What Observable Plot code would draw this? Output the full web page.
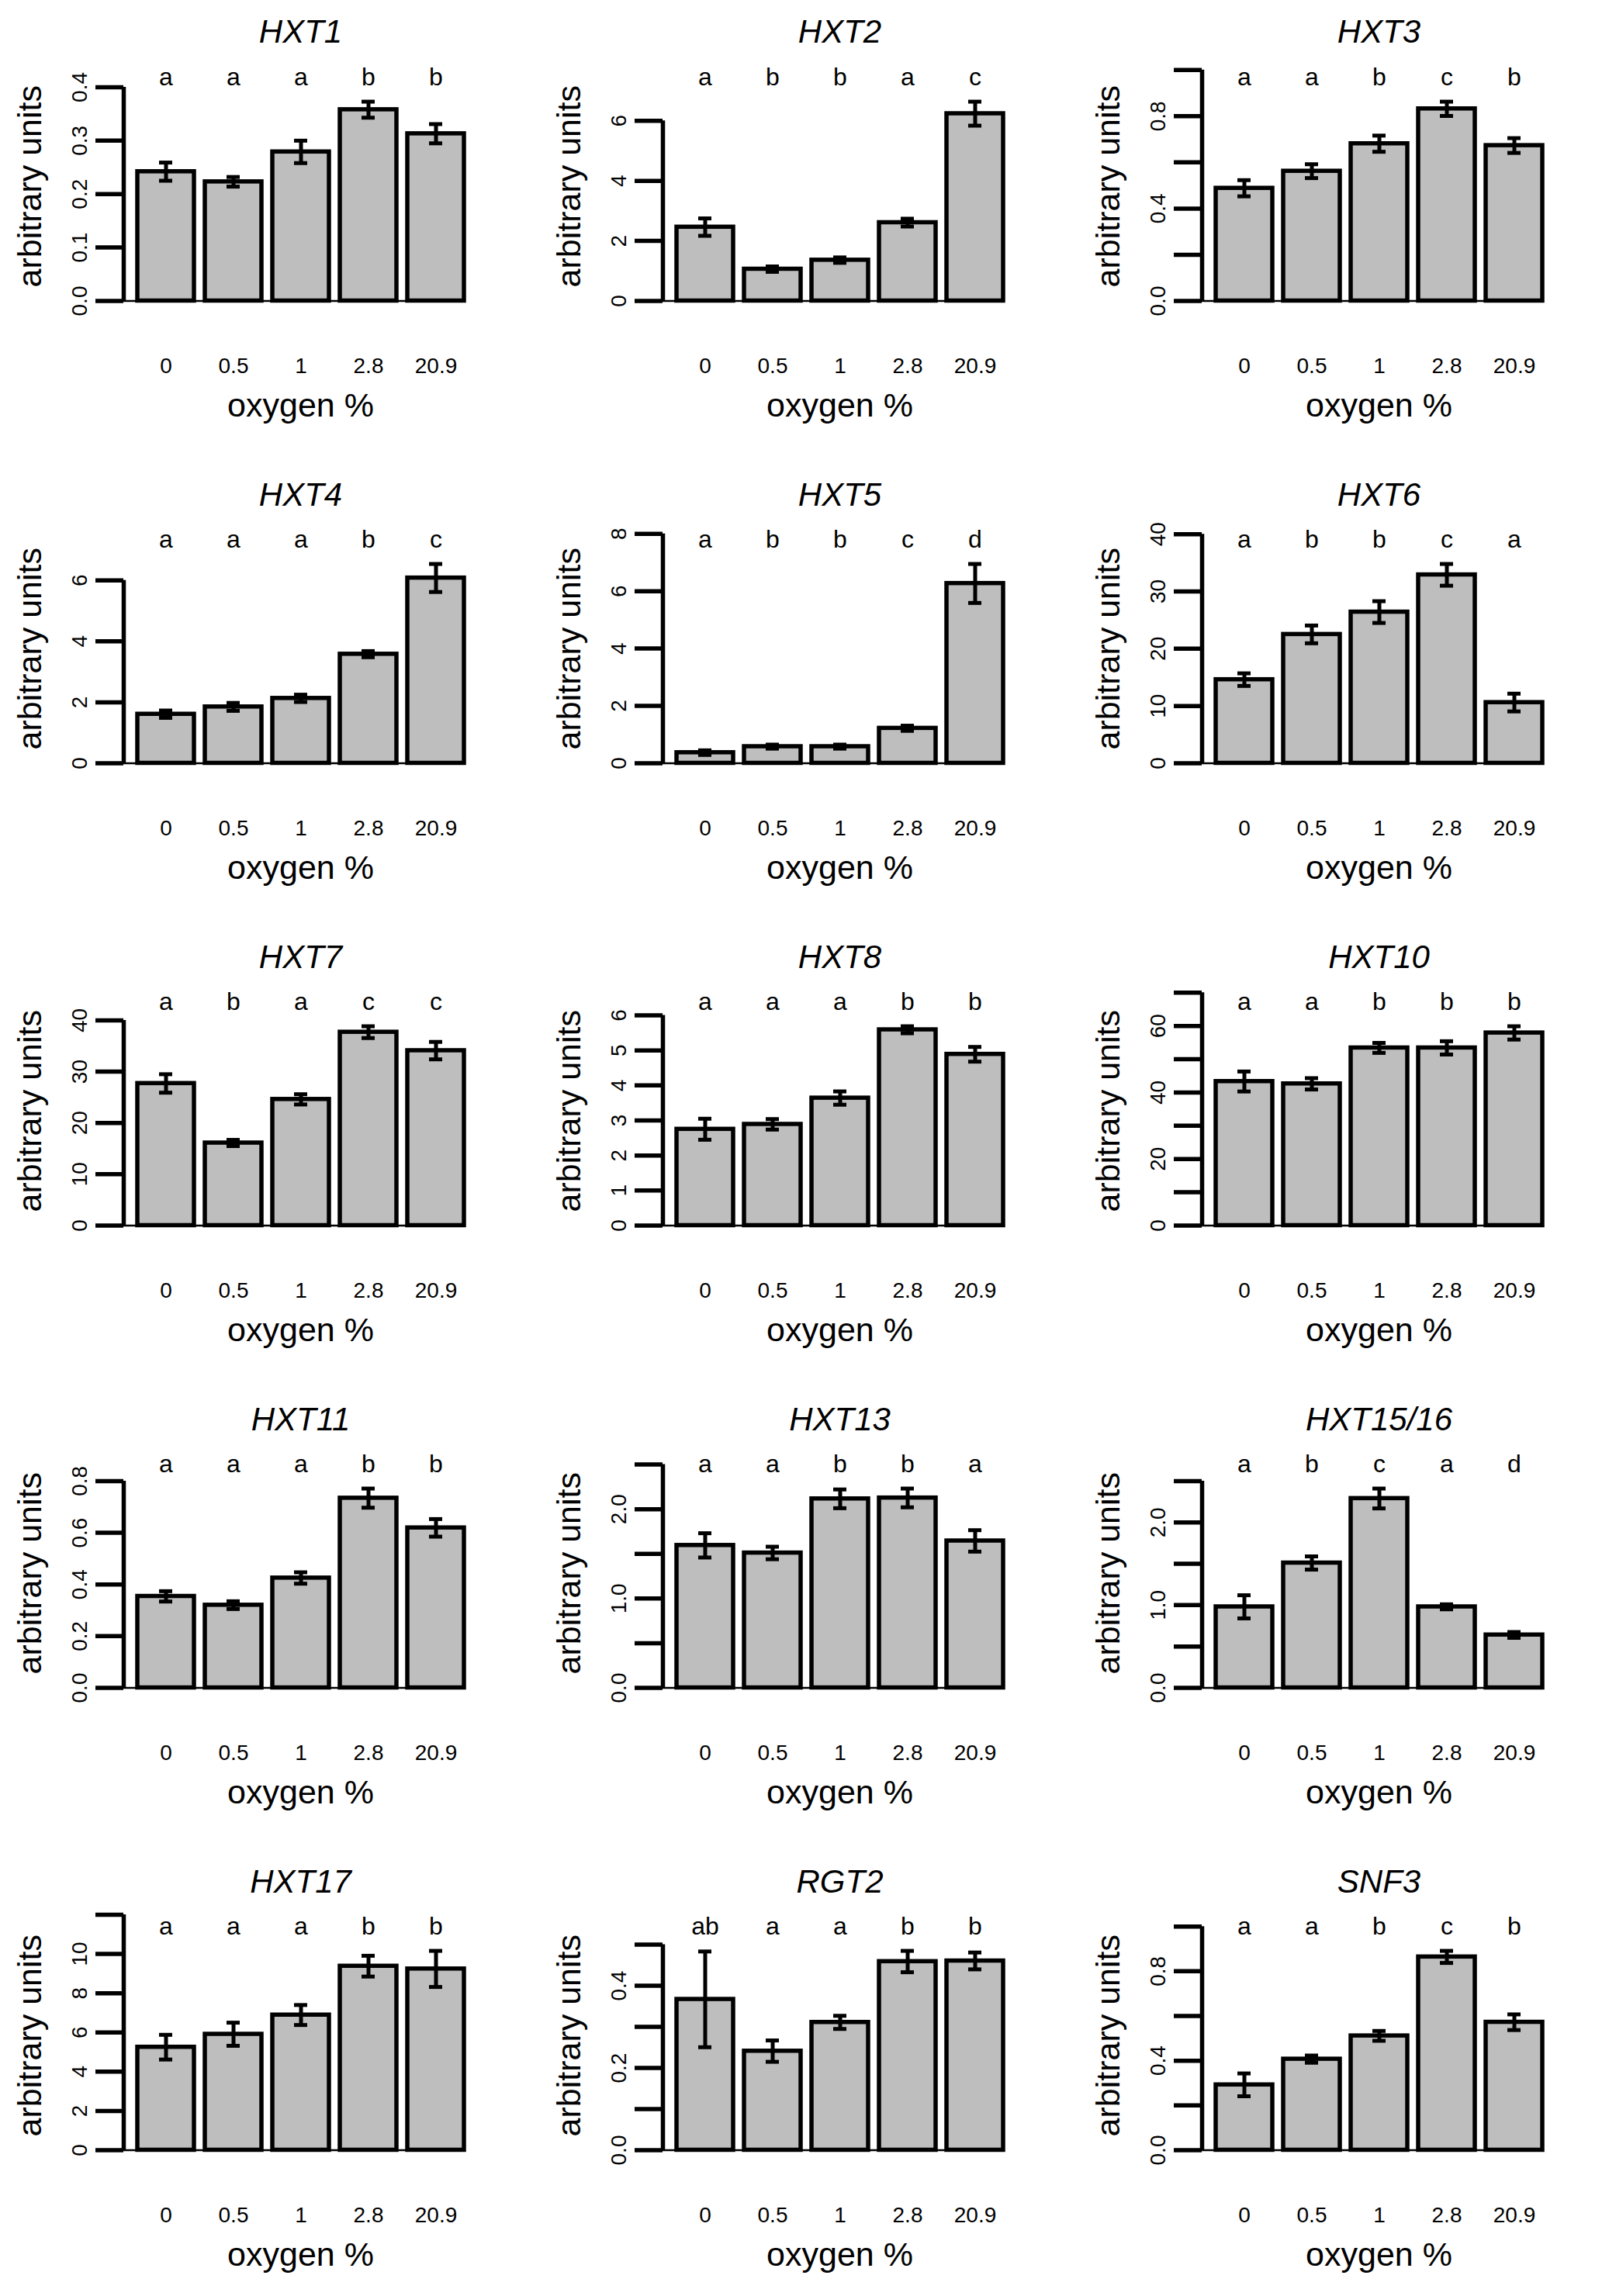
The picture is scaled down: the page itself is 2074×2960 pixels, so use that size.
<!DOCTYPE html>
<html>
<head>
<meta charset="utf-8">
<script src="https://cdn.jsdelivr.net/npm/d3@7"></script>
<script src="https://cdn.jsdelivr.net/npm/@observablehq/plot@0.6"></script>
<style>
html, body { margin: 0; padding: 0; background: #fff; overflow: hidden; }
#wrap { position: relative; width: 2074px; height: 2960px; overflow: hidden; background: #fff; }
.panel { position: absolute; width: 697px; height: 596px; }
.panel svg { max-width: none !important; }
</style>
</head>
<body>
<div id="wrap"></div>
<script>
// ---- data ----
const oxygen = ["0", "0.5", "1", "2.8", "20.9"];
const genes = ["HXT1", "HXT2", "HXT3", "HXT4", "HXT5", "HXT6", "HXT7", "HXT8", "HXT10",
               "HXT11", "HXT13", "HXT15/16", "HXT17", "RGT2", "SNF3"];
const means = [
  [0.242, 0.223, 0.279, 0.358, 0.313],
  [2.46, 1.06, 1.36, 2.61, 6.24],
  [0.488, 0.562, 0.681, 0.832, 0.673],
  [1.61, 1.85, 2.13, 3.58, 6.08],
  [0.37, 0.58, 0.58, 1.22, 6.27],
  [14.6, 22.5, 26.4, 32.9, 10.6],
  [27.7, 16.1, 24.6, 37.7, 34.1],
  [2.75, 2.89, 3.64, 5.59, 4.89],
  [43.3, 42.6, 53.4, 53.4, 57.9],
  [0.354, 0.320, 0.425, 0.734, 0.619],
  [1.595, 1.51, 2.116, 2.126, 1.645],
  [0.98, 1.51, 2.29, 0.98, 0.64],
  [5.25, 5.91, 6.89, 9.38, 9.24],
  [0.367, 0.241, 0.311, 0.459, 0.4605],
  [0.292, 0.407, 0.511, 0.864, 0.572]
];
const errors = [
  [0.017, 0.009, 0.021, 0.015, 0.018],
  [0.29, 0.09, 0.09, 0.13, 0.40],
  [0.035, 0.030, 0.035, 0.031, 0.032],
  [0.12, 0.13, 0.12, 0.10, 0.46],
  [0.08, 0.07, 0.07, 0.09, 0.68],
  [1.1, 1.55, 1.9, 1.9, 1.55],
  [1.8, 0.6, 1.0, 1.15, 1.7],
  [0.30, 0.15, 0.19, 0.10, 0.21],
  [3.0, 1.7, 1.5, 2.0, 2.0],
  [0.020, 0.015, 0.022, 0.037, 0.034],
  [0.136, 0.07, 0.105, 0.105, 0.12],
  [0.14, 0.08, 0.12, 0.03, 0.035],
  [0.63, 0.59, 0.51, 0.53, 0.92],
  [0.1165, 0.026, 0.016, 0.026, 0.0205],
  [0.051, 0.016, 0.022, 0.027, 0.035]
];
const letters = [
  ["a", "a", "a", "b", "b"],
  ["a", "b", "b", "a", "c"],
  ["a", "a", "b", "c", "b"],
  ["a", "a", "a", "b", "c"],
  ["a", "b", "b", "c", "d"],
  ["a", "b", "b", "c", "a"],
  ["a", "b", "a", "c", "c"],
  ["a", "a", "a", "b", "b"],
  ["a", "a", "b", "b", "b"],
  ["a", "a", "a", "b", "b"],
  ["a", "a", "b", "b", "a"],
  ["a", "b", "c", "a", "d"],
  ["a", "a", "a", "b", "b"],
  ["ab", "a", "a", "b", "b"],
  ["a", "a", "b", "c", "b"]
];
const yTicks = [
  [0, 0.1, 0.2, 0.3, 0.4],
  [0, 2, 4, 6],
  [0, 0.2, 0.4, 0.6, 0.8, 1.0],
  [0, 2, 4, 6],
  [0, 2, 4, 6, 8],
  [0, 10, 20, 30, 40],
  [0, 10, 20, 30, 40],
  [0, 1, 2, 3, 4, 5, 6],
  [0, 10, 20, 30, 40, 50, 60, 70],
  [0, 0.2, 0.4, 0.6, 0.8],
  [0, 0.5, 1.0, 1.5, 2.0, 2.5],
  [0, 0.5, 1.0, 1.5, 2.0, 2.5],
  [0, 2, 4, 6, 8, 10, 12],
  [0, 0.1, 0.2, 0.3, 0.4, 0.5],
  [0, 0.2, 0.4, 0.6, 0.8, 1.0]
];
const yTickLabels = [
  ["0.0", "0.1", "0.2", "0.3", "0.4"],
  ["0", "2", "4", "6"],
  ["0.0", "", "0.4", "", "0.8", ""],
  ["0", "2", "4", "6"],
  ["0", "2", "4", "6", "8"],
  ["0", "10", "20", "30", "40"],
  ["0", "10", "20", "30", "40"],
  ["0", "1", "2", "3", "4", "5", "6"],
  ["0", "", "20", "", "40", "", "60", ""],
  ["0.0", "0.2", "0.4", "0.6", "0.8"],
  ["0.0", "", "1.0", "", "2.0", ""],
  ["0.0", "", "1.0", "", "2.0", ""],
  ["0", "2", "4", "6", "8", "10", ""],
  ["0.0", "", "0.2", "", "0.4", ""],
  ["0.0", "", "0.4", "", "0.8", ""]
];
const yLabel = "arbitrary units";
const xLabel = "oxygen %";

// ---- layout ----
const W = 697, H = 596;
const ML = 159, MR = 82, MT = 80.2, MB = 196.7;
const colStep = 695, rowStep = 596;
const font = "'Liberation Sans', Arial, Helvetica, sans-serif";
const wrap = document.getElementById("wrap");

genes.forEach((g, k) => {
  const c = k % 3, r = Math.floor(k / 3);
  const rows = oxygen.map((o, i) => ({oxygen: o, value: means[k][i], se: errors[k][i], letter: letters[k][i]}));
  const ylim = 1.15 * d3.max(rows, d => d.value + d.se);
  const ticks = yTicks[k];
  const fmt = new Map(ticks.map((t, i) => [t, yTickLabels[k][i]]));
  const topTick = d3.max(ticks);
  const centerX = (ML + W - MR) / 2;

  const chart = Plot.plot({
    width: W, height: H,
    marginLeft: ML, marginRight: MR, marginTop: MT, marginBottom: MB,
    style: {fontFamily: font, background: "white", color: "black", maxWidth: "none"},
    x: {type: "band", domain: oxygen, paddingInner: 0.1657, paddingOuter: 0.1886},
    y: {domain: [-0.04 * ylim, 1.04 * ylim]},
    marks: [
      Plot.ruleY([0], {stroke: "black", strokeWidth: 2.5, insetRight: 16.5}),
      Plot.barY(rows, {x: "oxygen", y: "value", fill: "#bebebe", stroke: "black", strokeWidth: 5.5, inset: 0}),
      Plot.ruleX(rows, {x: "oxygen", y1: d => d.value - d.se, y2: d => d.value + d.se, stroke: "black", strokeWidth: 5}),
      Plot.tickY(rows, {x: "oxygen", y: d => d.value - d.se, insetLeft: 28, insetRight: 28, stroke: "black", strokeWidth: 5}),
      Plot.tickY(rows, {x: "oxygen", y: d => d.value + d.se, insetLeft: 28, insetRight: 28, stroke: "black", strokeWidth: 5}),
      Plot.ruleX([{lo: 0, hi: topTick}], {x: null, y1: "lo", y2: "hi", dx: ML - centerX, stroke: "black", strokeWidth: 5.5}),
      Plot.axisY(ticks, {
        tickSize: 36, tickPadding: 11.5, tickRotate: -90,
        tickFormat: d => fmt.get(d) ?? "",
        fontSize: 28, stroke: "black", strokeWidth: 5.5, label: null
      }),
      Plot.axisX({tickSize: 0, tickPadding: 61, fontSize: 28, label: null}),
      Plot.text(rows, {x: "oxygen", text: "letter", frameAnchor: "top", dy: 29.3, lineAnchor: "bottom", fontSize: 32, fill: "black"}),
      Plot.text([g], {frameAnchor: "top", dy: -25.2, lineAnchor: "bottom", fontSize: 42, fontStyle: "italic", fill: "black"}),
      Plot.text([yLabel], {frameAnchor: "left", rotate: -90, dx: 52 - ML, lineAnchor: "bottom", textAnchor: "middle", fontSize: 43, fill: "black"}),
      Plot.text([xLabel], {frameAnchor: "bottom", dy: 137.4, lineAnchor: "bottom", fontSize: 43, fill: "black"})
    ]
  });
  chart.style.maxWidth = "none";
  const holder = document.createElement("div");
  holder.className = "panel";
  holder.style.left = (c * colStep) + "px";
  holder.style.top = (r * rowStep) + "px";
  holder.appendChild(chart);
  wrap.appendChild(holder);
});
</script>
</body>
</html>
